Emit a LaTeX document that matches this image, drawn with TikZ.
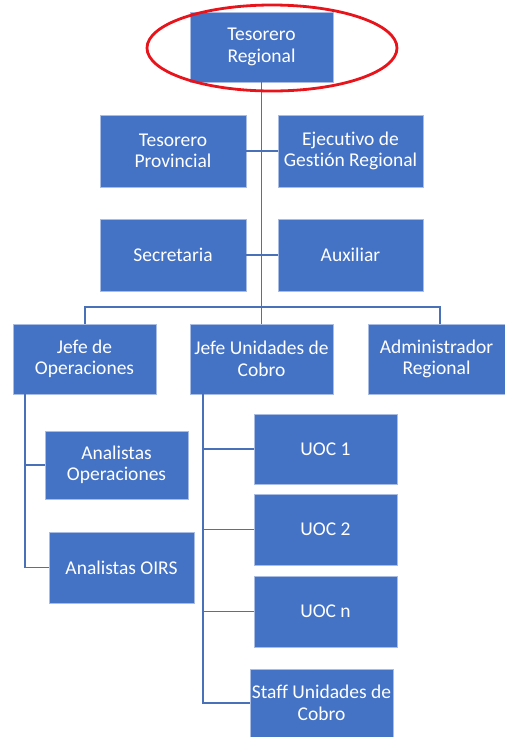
\documentclass[tikz,border=0pt]{standalone}
\usepackage{fontspec}
\setmainfont{Carlito}[Ligatures={NoCommon}]
\definecolor{boxblue}{HTML}{4472C4}
\definecolor{boxedge}{HTML}{A9BCE3}
\definecolor{linkblue}{HTML}{4A70B8}
\definecolor{ringred}{HTML}{E8141B}
\begin{document}
\begin{tikzpicture}[x=1pt,y=-1pt,
  orgbox/.style={rectangle, fill=boxblue, draw=boxedge, line width=0.6pt, text=white,
    align=center, inner sep=0pt, font=\fontsize{19.5}{21.5}\selectfont},
  link/.style={draw=linkblue, line width=1.8pt}]
\useasboundingbox (0,0) rectangle (505,737);
% nodes
\node[orgbox, minimum width=143pt, minimum height=70pt] (tr) at (261.5,47) {Tesorero\\Regional};
\node[orgbox, minimum width=146pt, minimum height=72pt] (tp) at (173,151) {Tesorero\\Provincial};
\node[orgbox, minimum width=145pt, minimum height=72pt] (eg) at (350.5,151) {Ejecutivo de\\Gestión Regional};
\node[orgbox, minimum width=146pt, minimum height=72pt] (se) at (173,255) {Secretaria};
\node[orgbox, minimum width=145pt, minimum height=72pt] (au) at (350.5,255) {Auxiliar};
\node[orgbox, minimum width=143pt, minimum height=70pt] (jo) at (84.5,359) {Jefe de\\Operaciones};
\node[orgbox, minimum width=143pt, minimum height=70pt] (ju) at (261.5,359) {Jefe Unidades de\\Cobro};
\node[orgbox, minimum width=137pt, minimum height=70pt] (ad) at (436.5,359) {Administrador\\Regional};
\node[orgbox, minimum width=143pt, minimum height=68pt] (ao) at (116.5,465) {Analistas\\Operaciones};
\node[orgbox, minimum width=145pt, minimum height=71pt] (ai) at (121.5,567.5) {Analistas OIRS};
\node[orgbox, minimum width=143pt, minimum height=70pt] (u1) at (325.5,449) {UOC 1};
\node[orgbox, minimum width=143pt, minimum height=71pt] (u2) at (325.5,529.5) {UOC 2};
\node[orgbox, minimum width=143pt, minimum height=71pt] (un) at (325.5,611.5) {UOC n};
\node[orgbox, minimum width=143pt, minimum height=68pt] (st) at (321.5,703) {Staff Unidades de\\Cobro};
% connectors
\coordinate (busL) at (85,307);
\coordinate (busR) at (440,307);
\coordinate (opTop) at (25,394);
\coordinate (opBot) at (25,567.5);
\coordinate (juTop) at (203,394);
\coordinate (juBot) at (203,703);
\path[link] (tr.south) -- (ju.north);
\path[link] (tp.east) -- (eg.west);
\path[link] (se.east) -- (au.west);
\path[link] (jo.north -| busL) -- (busL) -- (busR) -- (ad.north -| busR);
\path[link] (opTop) -- (opBot) -- (ai.west);
\path[link] (opTop |- ao.west) -- (ao.west);
\path[link] (juTop) -- (juBot) -- (st.west);
\path[link] (juTop |- u1.west) -- (u1.west);
\path[link] (juTop |- u2.west) -- (u2.west);
\path[link] (juTop |- un.west) -- (un.west);
% highlight ring
\draw[ringred, line width=2.8pt] (272,48) ellipse [x radius=125, y radius=43];
\end{tikzpicture}
\end{document}
